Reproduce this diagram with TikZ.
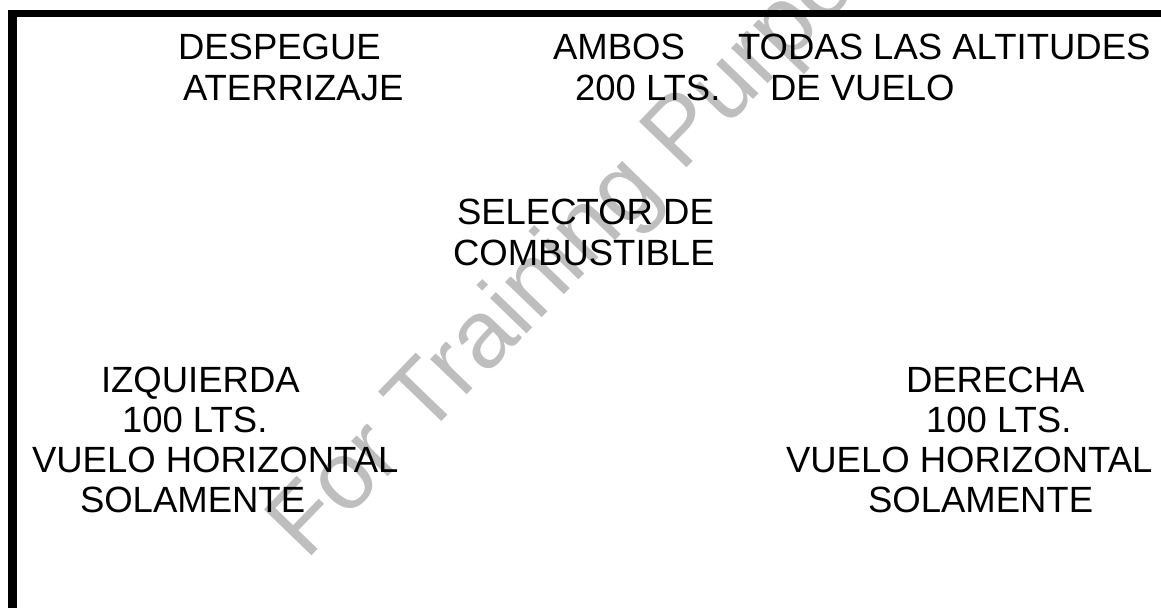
\documentclass[tikz,border=0pt]{standalone}
\usepackage{fontspec}
\setmainfont{Liberation Sans}
\definecolor{wmgray}{RGB}{190,190,190}
\tikzset{
  lbl/.style={anchor=base west, inner sep=0pt, outer sep=0pt, font=\fontsize{36.5}{40}\selectfont, text=black},
  wmark/.style={anchor=base west, inner sep=0pt, rotate=46, font=\fontsize{96}{100}\selectfont, text=wmgray},
  rule/.style={fill=black, draw=none}
}
\begin{document}
\begin{tikzpicture}[x=1pt, y=-1pt]
\useasboundingbox (0,0) rectangle (1161,608);
\fill[white] (0,0) rectangle (1161,608);
% watermark
\begin{scope}
\clip (0,0) rectangle (1161,608);
\node[wmark] (wm) at (306,562) {For Training Purposes Only};
\end{scope}
% frame
\path[rule] (8,10) rectangle (1161,17);
\path[rule] (8,10) rectangle (17,608);
% top labels
\node[lbl] (t1a) at (178,59) {DESPEGUE};
\node[lbl] (t1b) at (183,100) {ATERRIZAJE};
\node[lbl] (t2a) at (553,59) {AMBOS};
\node[lbl] (t2b) at (575,100) {200 LTS.};
\node[lbl] (t3a) at (738,59) {TODAS LAS ALTITUDES};
\node[lbl] (t3b) at (770,100) {DE VUELO};
% centre
\node[lbl] (c1) at (457,224) {SELECTOR DE};
\node[lbl] (c2) at (453,265) {COMBUSTIBLE};
% left
\node[lbl] (l1) at (101,392) {IZQUIERDA};
\node[lbl] (l2) at (122,432) {100 LTS.};
\node[lbl] (l3) at (32,472) {VUELO HORIZONTAL};
\node[lbl] (l4) at (80,512) {SOLAMENTE};
% right
\node[lbl] (r1) at (906,392) {DERECHA};
\node[lbl] (r2) at (926,432) {100 LTS.};
\node[lbl] (r3) at (786,472) {VUELO HORIZONTAL};
\node[lbl] (r4) at (868,512) {SOLAMENTE};
\end{tikzpicture}
\end{document}
